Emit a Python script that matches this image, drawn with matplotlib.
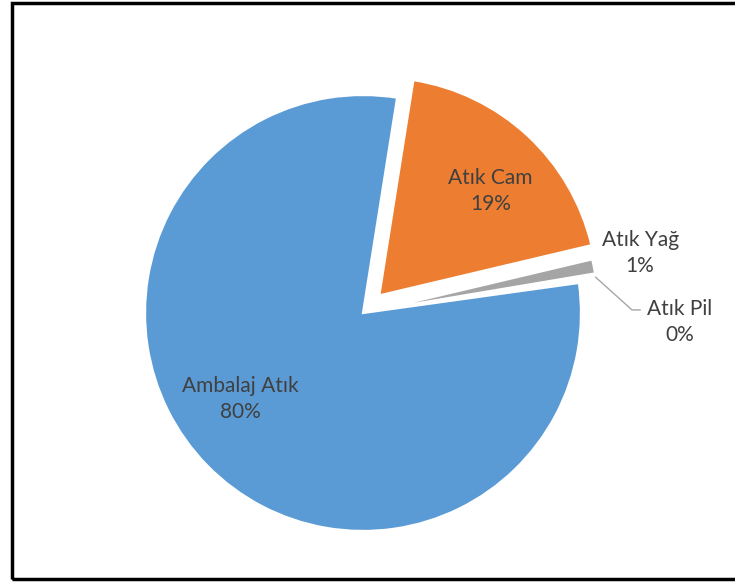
import numpy as np
import matplotlib.pyplot as plt
from matplotlib.patches import Rectangle

# waste share by type (percent)
names = ["Atık Cam", "Atık Yağ", "Atık Pil", "Ambalaj Atık"]
shares = [18.8, 1.05, 0.45, 79.7]
# the battery slice is left unfilled
colors = ["#ED7D31", "#A5A5A5", "#FFFFFF", "#5B9BD5"]
explode = [0.11, 0.08, 0.08, 0.0]

# inside labels: distance from wedge centre and angular nudge (deg)
label_dist = {0: 0.70, 3: 0.686}
label_turn = {0: -4.0, 3: -9.3}
# outside labels sit beside the pie
label_pos = {1: (1.271, 0.275), 2: (1.454, -0.041)}

plt.rcParams['font.family'] = ['Lato', 'DejaVu Sans']

fig = plt.figure(figsize=(7.35, 5.84), dpi=100)
ax = fig.add_axes([0, 0, 1, 1])

wedges, _ = ax.pie(shares, colors=colors, explode=explode, startangle=81,
                   counterclock=False, radius=1.0,
                   wedgeprops=dict(linewidth=1.6, edgecolor="white"))

for i, w in enumerate(wedges):
    txt = f"{names[i]}\n{round(shares[i])}%"
    if i in label_pos:
        x, y = label_pos[i]
    else:
        cx, cy = w.center
        mid = np.deg2rad((w.theta1 + w.theta2) / 2 + label_turn[i])
        x = cx + label_dist[i] * np.cos(mid)
        y = cy + label_dist[i] * np.sin(mid)
    ax.text(x, y, txt, ha="center", va="center", fontsize=15,
            color="#404040", linespacing=1.4)

# leader line for the tiny slice
pil = wedges[2]
a = np.deg2rad((pil.theta1 + pil.theta2) / 2)
px = pil.center[0] + pil.r * np.cos(a)
py = pil.center[1] + pil.r * np.sin(a)
ax.plot([px, 1.234, 1.271], [py, 0.014, 0.014], color="#A6A6A6", lw=1)

ax.set_xlim(-363 / 218, (735 - 363) / 218)
ax.set_ylim(-271 / 218, 313 / 218)
ax.set_aspect("auto")
ax.axis("off")

# chart frame
fig.patches.append(Rectangle((11.5 / 735, 5 / 584), 1.0, 576 / 584,
                             transform=fig.transFigure, fill=False,
                             edgecolor="black", linewidth=2.5))

fig.savefig("out.png", dpi=100)
